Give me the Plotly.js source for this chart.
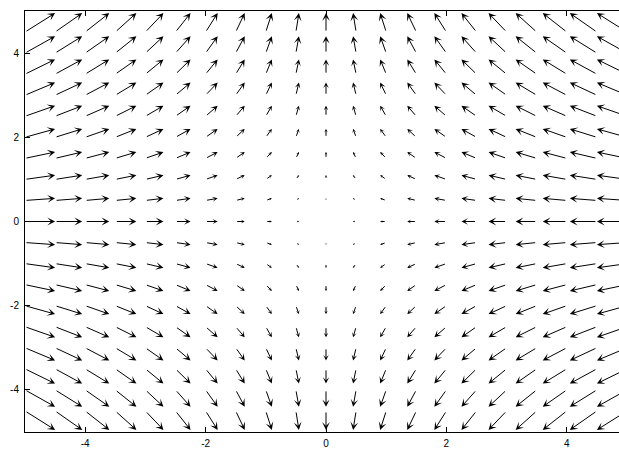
<!DOCTYPE html>
<html>
<head>
<meta charset="utf-8">
<script src="https://cdn.plot.ly/plotly-3.0.1.min.js"></script>
<style>html,body{margin:0;padding:0;background:#fff;overflow:hidden;}#chart{width:630px;height:449px;}</style>
</head>
<body>
<div id="chart"></div>
<script>
// Grid positions (tails of the arrows)
const gridX = [-5, -4.5, -4, -3.5, -3, -2.5, -2, -1.5, -1, -0.5, 0, 0.5, 1, 1.5, 2, 2.5, 3, 3.5, 4, 4.5, 5];
const gridY = [-4.5, -4, -3.5, -3, -2.5, -2, -1.5, -1, -0.5, 0, 0.5, 1, 1.5, 2, 2.5, 3, 3.5, 4, 4.5];
// Horizontal component per column, vertical component per row
const uByColumn = [0.5, 0.45, 0.4, 0.35, 0.3, 0.25, 0.2, 0.15, 0.1, 0.05, 0, -0.05, -0.1, -0.15, -0.2, -0.25, -0.3, -0.35, -0.4, -0.45, -0.5];
const vByRow = [-0.45, -0.4, -0.35, -0.3, -0.25, -0.2, -0.15, -0.1, -0.05, 0, 0.05, 0.1, 0.15, 0.2, 0.25, 0.3, 0.35, 0.4, 0.45];
// Tick labels
const tickValues = [-4, -2, 0, 2, 4];
const tickLabels = ['-4', '-2', '0', '2', '4'];

const W = 629, H = 449;
const margin = {l: 25, r: 2, t: 11, b: 17};
const xRange = [-5, 5];
const yRange = [-5, 5];
const pxPerX = (W - margin.l - margin.r) / (xRange[1] - xRange[0]);
const pxPerY = (H - margin.t - margin.b) / (yRange[1] - yRange[0]);

const annotations = [];
gridX.forEach((x, i) => {
  gridY.forEach((y, j) => {
    const u = uByColumn[i], v = vByRow[j];
    if (u === 0 && v === 0) return;
    const lenPx = Math.hypot(u * pxPerX, v * pxPerY);
    const f = Math.min(1, lenPx / 18);
    annotations.push({
      x: x + u, y: y + v, xref: 'x', yref: 'y',
      ax: x, ay: y, axref: 'x', ayref: 'y',
      text: '', showarrow: true,
      arrowhead: 3, arrowsize: Math.max(0.3, 1.3 * f), arrowwidth: 1,
      arrowcolor: '#000', standoff: 0, startstandoff: 0
    });
  });
});

const axisCommon = {
  showgrid: false, zeroline: false, showline: true, linecolor: '#000', linewidth: 1,
  ticks: 'inside', ticklen: 5, tickwidth: 1, tickcolor: '#000',
  tickvals: tickValues, ticktext: tickLabels,
  tickfont: {family: 'Liberation Sans, Arial, sans-serif', size: 10, color: '#000'}
};

const layout = {
  width: W, height: H,
  margin: margin,
  paper_bgcolor: '#fff', plot_bgcolor: '#fff',
  showlegend: false,
  xaxis: Object.assign({}, axisCommon, {range: xRange, mirror: 'ticks', ticklabelstandoff: 2}),
  yaxis: Object.assign({}, axisCommon, {range: yRange, mirror: 'ticks', ticklabelstandoff: 3}),
  annotations: annotations
};

Plotly.newPlot('chart', [{x: [], y: [], type: 'scatter', mode: 'markers'}], layout, {staticPlot: true, displayModeBar: false});
</script>
</body>
</html>
